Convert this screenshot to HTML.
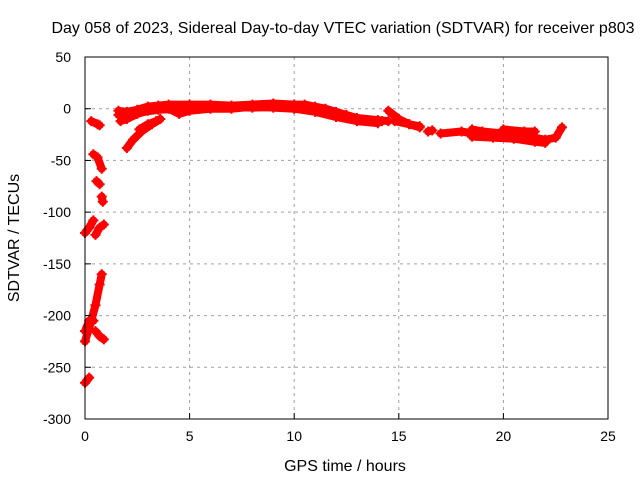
<!DOCTYPE html>
<html><head><meta charset="utf-8"><style>
body{margin:0;background:#fff}
svg text{font-family:"Liberation Sans",sans-serif;font-size:14px;fill:#000}
svg text.big{font-size:16px}
</style></head><body>
<svg width="640" height="480">
<g id="grid"></g><g id="series"></g><g id="axes"></g>
</svg>
<script>
const xTicks=[0,5,10,15,20,25];
const yTicks=[50,0,-50,-100,-150,-200,-250,-300];
const segMainUpper=[[1.6,-2],[2,-3],[2.5,-1],[3,2],[3.5,3],[4,4],[5,4],[6,4],[7,3],[8,4],[9,5],[10,4],[10.5,4],[11,2],[11.5,0],[12,-3],[12.5,-6],[13,-9],[14,-11],[14.5,-12]];
const segMainMid=[[1.6,-6],[2.5,-4],[3.5,-1],[4.5,0],[6,2],[8,1],[9.5,2],[10.5,0],[11.5,-4],[12.5,-8],[13.5,-11],[14.2,-12]];
const segMainLower=[[1.7,-12],[2,-10],[2.5,-5],[3,-2],[4,0],[4.5,-5],[5,-2],[6,0],[7,0],[8,2],[9,1],[10,0],[11,-3],[12,-8],[13,-12],[14,-14]];
const segBranch1=[[2,-38],[2.3,-30],[2.7,-22],[3.2,-15],[3.6,-10]];
const segBranch2=[[2.6,-20],[3,-15],[3.4,-12]];
const segMid1=[[14.5,-2],[15,-10],[15.5,-15],[16,-18]];
const segMid2=[[14.8,-12],[15.5,-15],[16,-17]];
const segMid3=[[16.4,-22],[16.6,-21]];
const segMid4=[[17,-24],[18,-22],[18.5,-24]];
const segEnd1=[[18.5,-20],[19,-22],[20,-24],[21,-26],[22,-30],[22.5,-28],[22.8,-18]];
const segEnd2=[[18.5,-27],[19.5,-28],[20.5,-29],[21.5,-32],[22,-33]];
const segEnd3=[[20,-20],[21,-22],[21.5,-22]];
const segL1=[[0.3,-12],[0.6,-15],[0.7,-16]];
const segL2=[[0.4,-44],[0.6,-47],[0.8,-58]];
const segL3=[[0.55,-70],[0.7,-73]];
const segL4=[[0.8,-85],[0.85,-90]];
const segL5=[[0,-120],[0.2,-115],[0.4,-108]];
const segL6=[[0.5,-122],[0.7,-115],[0.9,-112]];
const segL7=[[0,-225],[0.3,-205],[0.5,-190],[0.7,-170],[0.8,-160]];
const segL8=[[0,-215],[0.2,-205],[0.4,-205]];
const segL9=[[0.5,-215],[0.7,-220],[0.9,-223]];
const segL10=[[0,-265],[0.2,-260]];
const allSegs=[segMainUpper,segMainMid,segMainLower,segBranch1,segBranch2,segMid1,segMid2,segMid3,segMid4,segEnd1,segEnd2,segEnd3,segL1,segL2,segL3,segL4,segL5,segL6,segL7,segL8,segL9,segL10];

const L=85,R=608,T=57,B=419;
const xs=h=>L+(h-0)/25*(R-L);
const ys=v=>T+(50-v)/350*(B-T);
const NS="http://www.w3.org/2000/svg";
function mk(tag,attrs,parent){const e=document.createElementNS(NS,tag);for(const k in attrs)e.setAttribute(k,attrs[k]);parent.appendChild(e);return e;}
const grid=document.getElementById('grid'),axes=document.getElementById('axes'),ser=document.getElementById('series');
xTicks.forEach(t=>{const x=xs(t);
 if(t>0&&t<25){const g=mk('line',{x1:x,x2:x,y1:T,y2:B,stroke:'#a0a0a0','stroke-dasharray':'3,4'},grid);
 }
 const tk=mk('line',{x1:x,x2:x,y1:B,y2:B-6,stroke:'#000'},axes);
 
 const tx=mk('text',{x:x,y:B+22,'text-anchor':'middle'},axes);tx.textContent=t;
 });
yTicks.forEach(t=>{const y=ys(t);
 if(t<50&&t>-300){const g=mk('line',{x1:L,x2:R,y1:y,y2:y,stroke:'#a0a0a0','stroke-dasharray':'3,4'},grid);
 }
 const tk=mk('line',{x1:L,x2:L+6,y1:y,y2:y,stroke:'#000'},axes);
 
 const tx=mk('text',{x:L-14,y:y+5,'text-anchor':'end'},axes);tx.textContent=t;
 });
const fr=mk('rect',{x:L,y:T,width:R-L,height:B-T,fill:'none',stroke:'#000'},axes);

allSegs.forEach(s=>{
 const pl=mk('polyline',{points:s.map(p=>xs(p[0])+','+ys(p[1])).join(' '),fill:'none',stroke:'#ff0000','stroke-width':8,'stroke-linejoin':'round','stroke-linecap':'round'},ser);
 
 s.forEach(p=>{const x=xs(p[0]),y=ys(p[1]);
  const m=mk('path',{d:`M${x-5},${y}H${x+5}M${x},${y-5}V${y+5}`,stroke:'#ff0000','stroke-width':2},ser);
  });
});
const ti=mk('text',{x:343,y:33,'text-anchor':'middle',class:'big'},axes);ti.textContent='Day 058 of 2023, Sidereal Day-to-day VTEC variation (SDTVAR) for receiver p803';

const xl=mk('text',{x:345,y:471,'text-anchor':'middle',class:'big'},axes);xl.textContent='GPS time / hours';

const yl=mk('text',{x:0,y:0,'text-anchor':'middle',class:'big',transform:'translate(19,238) rotate(-90)'},axes);yl.textContent='SDTVAR / TECUs';

</script>
</body></html>
